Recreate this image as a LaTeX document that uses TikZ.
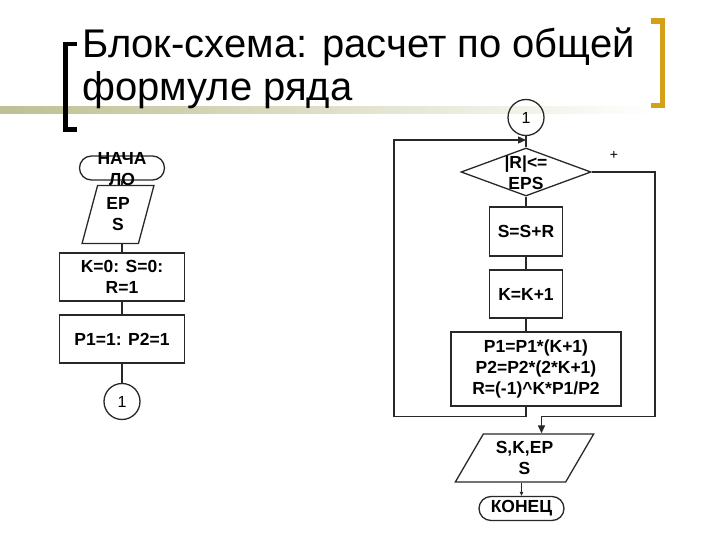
\documentclass[tikz,border=0pt]{standalone}
\usepackage{fontspec}
\setmainfont{Liberation Sans}
\usetikzlibrary{shapes.geometric,arrows.meta}
\definecolor{bandolive}{RGB}{180,180,128}
\definecolor{bracketgold}{RGB}{212,160,23}
\definecolor{flowline}{RGB}{40,40,40}

\begin{document}
\begin{tikzpicture}[x=1pt,y=-1pt,
  blk/.style={draw=flowline,line width=1.3pt,inner sep=0pt,align=center,
    font=\fontsize{17.5}{21}\selectfont\bfseries},
  box/.style={blk,rectangle},
  term/.style={blk,rectangle,rounded corners=12pt,minimum width=85pt,minimum height=24pt},
  io/.style 2 args={blk,trapezium,trapezium left angle=#1,trapezium right angle=#2,minimum height=48pt},
  dec/.style={blk,diamond,minimum width=130pt,minimum height=48pt},
  lbl/.style={inner sep=0pt,align=center,font=\fontsize{17.5}{21}\selectfont\bfseries},
  joint/.style={draw=flowline,line width=1.3pt,circle,minimum size=36pt,inner sep=0pt,
    font=\fontsize{16}{18}\selectfont},
  conn/.style={draw=flowline,line width=1.3pt},
  arr/.style={conn,-{Triangle[length=8pt,width=7pt]}},
  smallarr/.style={draw=flowline,line width=0.8pt,-{Triangle[length=4pt,width=3.5pt]}},
  title/.style={inner sep=0pt,font=\fontsize{40}{43}\selectfont}]
  \useasboundingbox (0,0) rectangle (720,540);

  \shade[left color=bandolive!85,middle color=bandolive!55,right color=white]
    (0,107) rectangle (660,114);
  \fill (63,42) rectangle (68,132);
  \fill (63,42) rectangle (77,46);
  \fill (63,127) rectangle (77,132);
  \fill[bracketgold] (660,18) rectangle (665,108);
  \fill[bracketgold] (651,18) rectangle (665,24);
  \fill[bracketgold] (651,103) rectangle (665,108);
  \node[title,anchor=base west] (title1) at (82,58) {Блок-схема: расчет по общей};
  \node[title,anchor=base west] (title2) at (82,101) {формуле ряда};

  \node[term] (start) at (122,168) {};
  \node[lbl] (startlbl) at (122,169.5) {НАЧА\\ЛО};
  \node[io={75}{105},minimum width=72pt] (eps) at (118,214.5) {EP\\S};
  \node[box,minimum width=125pt,minimum height=48pt] (init1) at (122,277) {K=0: S=0:\\R=1};
  \node[box,minimum width=125pt,minimum height=48pt] (init2) at (122,339) {P1=1: P2=1};
  \node[joint] (c1a) at (122,401.5) {1};

  \draw[conn] (start.south) -- (start.south |- eps.north);
  \draw[conn] (eps.south -| init1.north) -- (init1.north);
  \draw[conn] (init1) -- (init2);
  \draw[conn] (init2) -- (c1a);

  \node[joint] (c1b) at (526,117.5) {1};
  \node[dec] (cond) at (526,172) {};
  \node[lbl] (condlbl) at (526,172.5) {|R|<=\\EPS};
  \node[font=\fontsize{14}{16}\selectfont,inner sep=0pt] (yes) at (614,155) {+};
  \node[box,minimum width=73pt,minimum height=49pt] (sum) at (526,231.5) {S=S+R};
  \node[box,minimum width=73pt,minimum height=48pt] (inc) at (526,294) {K=K+1};
  \node[box,minimum width=170pt,minimum height=74pt] (calc) at (536,369)
    {P1=P1*(K+1)\\P2=P2*(2*K+1)\\R=(-1)\textasciicircum K*P1/P2};
  \node[io={59.7}{120.3},minimum width=137pt] (out) at (524.5,458) {S,K,EP\\S};
  \node[term] (stop) at (521.5,508.5) {КОНЕЦ};

  \coordinate (backL) at (394,416.5);
  \coordinate (backT) at (394,140);
  \coordinate (exitR) at (655,172);
  \coordinate (exitB) at (655,416.5);
  \coordinate (exitIn) at (541.5,416.5);

  \draw[conn] (c1b) -- (cond);
  \draw[conn] (cond) -- (sum);
  \draw[conn] (sum) -- (inc);
  \draw[conn] (inc) -- (inc |- calc.north);
  \draw[arr] (inc |- calc.south) -- (inc |- backL) -- (backL) -- (backT) -- (backT -| c1b);
  \draw[arr] (cond.east) -- (exitR) -- (exitB) -- (exitIn) -- (exitIn |- out.north);
  \draw[smallarr] (out.south -| stop.north) -- (stop.north);
\end{tikzpicture}
\end{document}
